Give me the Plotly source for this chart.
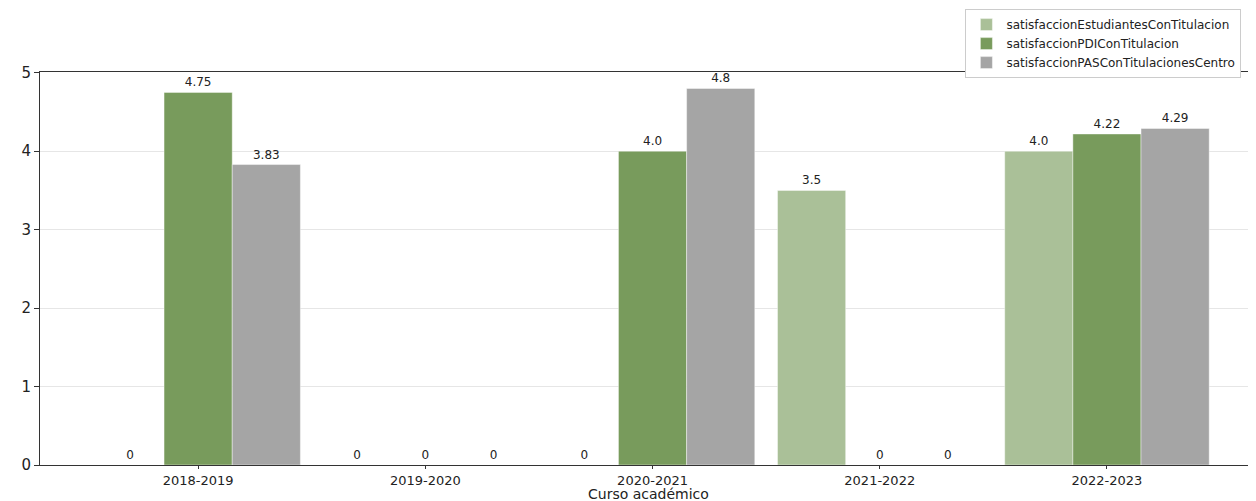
import plotly.graph_objects as go

cursos = ["2018-2019", "2019-2020", "2020-2021", "2021-2022", "2022-2023"]
estudiantes = [0, 0, 0, 3.5, 4.0]
pdi = [4.75, 0, 4.0, 0, 4.22]
pas = [3.83, 0, 4.8, 0, 4.29]
x_title = "Curso académico"

series = [
    ("satisfaccionEstudiantesConTitulacion", estudiantes, "#aac098"),
    ("satisfaccionPDIConTitulacion", pdi, "#789b5c"),
    ("satisfaccionPASConTitulacionesCentro", pas, "#a5a5a5"),
]

def lbl(v):
    return "0" if v == 0 else str(v)

fig = go.Figure()
for name, vals, col in series:
    fig.add_trace(go.Bar(
        x=cursos, y=vals, name=name,
        marker=dict(color=col, line=dict(color="rgba(255,255,255,0.7)", width=0.6)),
        text=[lbl(v) for v in vals],
        textposition="outside",
        textfont=dict(family="DejaVu Sans", size=12, color="#222222"),
        cliponaxis=False,
    ))

# the page body has an 8px margin, so the figure is sized to fit the window
fig.update_layout(
    width=1248, height=493,
    barmode="group", bargap=0.1, bargroupgap=0,
    margin=dict(l=32, r=0, t=64, b=36, autoexpand=False),
    paper_bgcolor="white", plot_bgcolor="white",
    font=dict(family="DejaVu Sans", color="#222222"),
    legend=dict(
        x=0.988, xanchor="right", y=1.16, yanchor="top",
        font=dict(family="DejaVu Sans", size=12, color="#222222"),
        bordercolor="#cccccc", borderwidth=1, bgcolor="white",
        tracegroupgap=0,
    ),
    annotations=[dict(
        text=x_title, xref="paper", yref="paper", x=0.5, y=0,
        xanchor="center", yanchor="middle", yshift=-29, showarrow=False,
        font=dict(family="DejaVu Sans", size=14, color="#222222"),
    )],
)
fig.update_xaxes(
    type="category", range=[-0.696, 4.656],
    showline=True, linecolor="#333333", linewidth=1, mirror=True,
    ticks="outside", ticklen=3, tickcolor="#333333",
    tickfont=dict(family="DejaVu Sans", size=13, color="#222222"),
    showgrid=False, automargin=False,
)
fig.update_yaxes(
    range=[0, 5.01],
    tickvals=[0, 1, 2, 3, 4, 5],
    showline=True, linecolor="#333333", linewidth=1,
    ticks="outside", ticklen=5, tickcolor="#333333",
    tickfont=dict(family="DejaVu Sans", size=15, color="#222222"),
    showgrid=True, gridcolor="#e6e6e6", gridwidth=1,
    zeroline=False, automargin=False,
)

fig.write_html("out.html")
